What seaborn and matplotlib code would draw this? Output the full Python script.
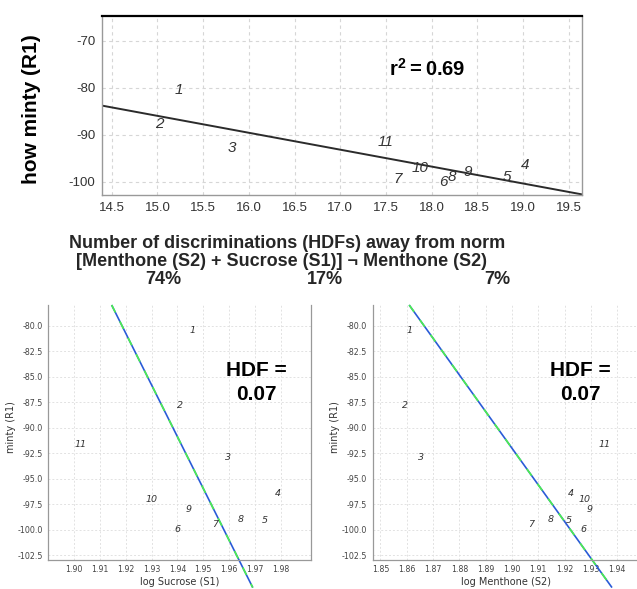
import numpy as np
import pandas as pd
import matplotlib
matplotlib.use("Agg")
import matplotlib.pyplot as plt
from matplotlib import font_manager
import seaborn as sns

# ---- data -------------------------------------------------------------
sample_labels = ["1", "2", "3", "4", "5", "6", "7", "8", "9", "10", "11"]
hdf_distance = [15.235, 15.02, 15.81, 19.02, 18.82, 18.13, 17.63, 18.22, 18.40, 17.87, 17.50]
minty = [-80.4, -87.8, -92.9, -96.5, -99.1, -100.0, -99.5, -99.0, -98.0, -97.0, -91.6]
log_sucrose = [1.9459, 1.9410, 1.9596, 1.9787, 1.9738, 1.9399, 1.9545, 1.9644, 1.9444, 1.9300, 1.9027]
log_menthone = [1.8612, 1.8594, 1.8653, 1.9225, 1.9216, 1.9271, 1.9074, 1.9146, 1.9297, 1.9276, 1.9352]

r_squared = 0.69
hdf_value = 0.07
shares = [74, 17, 7]

# iso-HDF reference lines: (slope, anchor x, anchor y)
sucrose_line = (-509.0, 1.94, -90.88)
menthone_line = (-360.0, 1.92, -99.2)
line_floor = -105.7

top_xticks = [14.5, 15.0, 15.5, 16.0, 16.5, 17.0, 17.5, 18.0, 18.5, 19.0, 19.5]
top_yticks = [-70, -80, -90, -100]
bottom_yticks = [-80.0, -82.5, -85.0, -87.5, -90.0, -92.5, -95.0, -97.5, -100.0, -102.5]
sucrose_xticks = [1.90, 1.91, 1.92, 1.93, 1.94, 1.95, 1.96, 1.97, 1.98]
menthone_xticks = [1.85, 1.86, 1.87, 1.88, 1.89, 1.90, 1.91, 1.92, 1.93, 1.94]

df = pd.DataFrame({"label": sample_labels, "hdf": hdf_distance, "minty": minty,
                   "sucrose": log_sucrose, "menthone": log_menthone})

# ---- style ------------------------------------------------------------
sns.set_theme(style="white")
plt.rcParams["font.family"] = ["Liberation Sans", "DejaVu Sans"]
plt.rcParams["axes.unicode_minus"] = False
plt.rcParams["mathtext.fontset"] = "custom"
plt.rcParams["mathtext.rm"] = "Liberation Sans"
plt.rcParams["mathtext.bf"] = "Liberation Sans:bold"

installed = {f.name for f in font_manager.fontManager.ttflist}
if "Liberation Sans Narrow" in installed:
    caption_font, caption_size = ["Liberation Sans Narrow", "DejaVu Sans"], 16
else:
    caption_font, caption_size = ["Liberation Sans", "DejaVu Sans"], 13

W, H = 637, 589
fig = plt.figure(figsize=(W / 100, H / 100), dpi=100)


def px_axes(left, top, right, bottom):
    return fig.add_axes([left / W, 1 - bottom / H, (right - left) / W, (bottom - top) / H])


# ---- top panel: minty vs HDF distance --------------------------------
ax = px_axes(102.3, 15.7, 582, 195)
ax.set_xlim(14.397, 19.645)
ax.set_ylim(-102.83, -64.68)
sns.regplot(data=df, x="hdf", y="minty", ax=ax, scatter=False, ci=None,
            truncate=False, line_kws=dict(color="#2b2b2b", lw=1.4))
ax.set_xlim(14.397, 19.645)
ax.set_ylim(-102.83, -64.68)
for _, row in df.iterrows():
    ax.text(row["hdf"], row["minty"], row["label"], ha="center", va="center",
            fontsize=11, style="italic", color="#333333")
ax.set_xticks(top_xticks)
ax.set_xticklabels([f"{t:.1f}" for t in top_xticks])
ax.set_yticks(top_yticks)
ax.grid(True, color="#d6d6d6", linestyle=(0, (3, 3)), lw=0.8)
ax.tick_params(axis="both", direction="out", length=3, width=0.8, color="#888888",
               labelsize=9.5, labelcolor="#333333", pad=2)
for side in ["left", "bottom", "right"]:
    ax.spines[side].set_color("#999999")
    ax.spines[side].set_linewidth(1.0)
ax.spines["top"].set_color("black")
ax.spines["top"].set_linewidth(1.6)
ax.set_xlabel("")
ax.set_ylabel("how minty (R1)", fontsize=15, fontweight="bold", color="black")
ax.yaxis.set_label_coords(-(102.3 - 41) / 479.7, 0.48)
ax.text(17.95, -76.0, r"$\mathbf{r^2 = " + f"{r_squared:.2f}" + r"}$", ha="center", va="center",
        fontsize=14.5, color="black")

# ---- captions between panels -----------------------------------------
fig.text(287 / W, 1 - 243 / H, "Number of discriminations (HDFs) away from norm",
         ha="center", va="center", fontsize=caption_size, fontweight="bold", family=caption_font)
fig.text(282 / W, 1 - 262 / H, "[Menthone (S2) + Sucrose (S1)] \u00ac Menthone (S2)",
         ha="center", va="center", fontsize=caption_size, fontweight="bold", family=caption_font)
for xc, s in zip([163, 325, 497], shares):
    fig.text(xc / W, 1 - 280 / H, f"{s}%", ha="center", va="center",
             fontsize=caption_size, fontweight="bold", family=caption_font)


# ---- bottom panels: minty vs log concentration -----------------------
def bottom_panel(ax, xcol, xlim, xticks, xlabel, line, hdf_xy, show_right):
    ylim = (-102.94, -77.94)
    ax.set_xlim(*xlim)
    ax.set_ylim(*ylim)
    ax.set_xticks(xticks)
    ax.set_xticklabels([f"{t:.2f}" for t in xticks])
    ax.set_yticks(bottom_yticks)
    ax.set_yticklabels([f"{t:.1f}" for t in bottom_yticks])
    ax.grid(True, color="#e2e2e2", linestyle=(0, (2, 2)), lw=0.7)
    ax.tick_params(axis="both", direction="out", length=2, width=0.6, color="#888888",
                   labelsize=5.7, labelcolor="#444444", pad=2)
    for lab in ax.get_xticklabels() + ax.get_yticklabels():
        lab.set_family("DejaVu Sans")
    ax.spines["top"].set_visible(False)
    ax.spines["right"].set_visible(show_right)
    for side in ["left", "bottom", "right"]:
        ax.spines[side].set_color("#999999")
        ax.spines[side].set_linewidth(0.9)
    for _, row in df.iterrows():
        ax.text(row[xcol], row["minty"], row["label"], ha="center", va="center",
                fontsize=6.8, style="italic", color="#333333", family="DejaVu Sans")
    slope, x0, y0 = line
    xa = x0 + (ylim[1] - y0) / slope
    xb = x0 + (line_floor - y0) / slope
    xs = np.array([xa, xb])
    ys = y0 + slope * (xs - x0)
    ax.plot(xs, ys, color="#2a5bd7", lw=1.2, clip_on=False, solid_capstyle="butt")
    ax.plot(xs, ys, color="#4cf04c", lw=1.2, clip_on=False, linestyle=(0, (5, 6)))
    ax.set_xlabel(xlabel, fontsize=7, color="#333333", family="DejaVu Sans")
    ax.set_ylabel("minty (R1)", fontsize=7, color="#333333", family="DejaVu Sans")
    ax.xaxis.set_label_coords(0.5, -0.07)
    ax.text(hdf_xy[0], hdf_xy[1], f"HDF =\n{hdf_value:.2f}", transform=ax.transAxes,
            ha="center", va="center", fontsize=15, fontweight="bold", color="black",
            linespacing=1.3)


axL = px_axes(48.3, 305, 310.7, 559.5)
bottom_panel(axL, "sucrose", (1.8901, 1.9915), sucrose_xticks, "log Sucrose (S1)",
             sucrose_line, ((256.7 - 48.3) / 262.4, (559.5 - 382.5) / 254.5), True)
axL.yaxis.set_label_coords(-(48.3 - 16.5) / 262.4, 0.52)

axR = px_axes(372.5, 305, 640, 559.5)
bottom_panel(axR, "menthone", (1.8470, 1.9487), menthone_xticks, "log Menthone (S2)",
             menthone_line, ((580.3 - 372.5) / 267.5, (559.5 - 382.5) / 254.5), False)
axR.yaxis.set_label_coords(-(372.5 - 340.5) / 267.5, 0.52)

fig.savefig("out.png", dpi=100, facecolor="white")
